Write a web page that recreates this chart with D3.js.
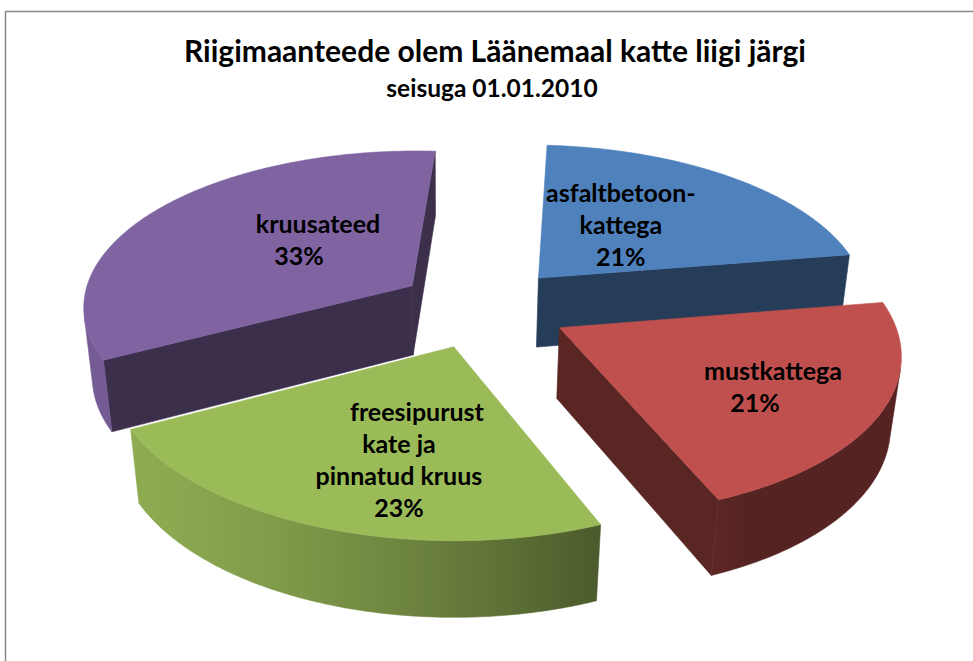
<!DOCTYPE html>
<html>
<head>
<meta charset="utf-8">
<script src="https://cdn.jsdelivr.net/npm/d3@7"></script>
<style>
  body { margin: 0; background: #fff; }
  svg { display: block; }
</style>
</head>
<body>
<div id="chart"></div>
<script>
const width = 973;
const height = 661;

// Data
const categories = ["asfaltbetoon-\nkattega", "mustkattega", "freesipurust\nkate ja\npinnatud kruus", "kruusateed"];
const shares = [21, 21, 23, 33];
const colors = ["#4F81BD", "#C0504D", "#9BBB59", "#8064A2"];
const title = "Riigimaanteede olem Läänemaal katte liigi järgi";
const subtitle = "seisuga 01.01.2010";

// 3D camera (fitted to the picture)
const cam = {phi: 33.03, dist: 6.774, fx: 2134.6, fy: 1919.5, cx: 449.4, cy: 344.6, ox: 0.102, oy: -0.207};
const explode = 0.258;   // in pie radii
const depth = 0.2835;    // slice thickness
const startDeg = 3.72;

// label placement on top face: radius, angle offset from mid angle, per line dx
const labelPos = [
  {r: 0.458, da: -4.7, dx: [0, 0, 0]},
  {r: 0.668, da: 2.5, dx: [8, -10]},
  {r: 0.637, da: -8.3, dx: [12, -6, -6, -6]},
  {r: 0.450, da: 9.5, dx: [8, -11]}
];
const font = "Lato, 'Open Sans', sans-serif";

const RAD = Math.PI / 180;
const cphi = Math.cos(cam.phi * RAD), sphi = Math.sin(cam.phi * RAD);

function project(x, y, z) {
  x += cam.ox; y += cam.oy;
  const d = cam.dist + y * cphi - z * sphi;
  return [cam.cx + cam.fx * x / d, cam.cy - cam.fy * (y * sphi + z * cphi) / d];
}
const eye = [-cam.ox, -cam.dist * cphi - cam.oy, cam.dist * sphi];

const pie = d3.pie().sort(null)
  .startAngle(startDeg * RAD)
  .endAngle(startDeg * RAD + 2 * Math.PI);

const slices = pie(shares).map((a, i) => {
  const m = (a.startAngle + a.endAngle) / 2;
  return {i, a0: a.startAngle, a1: a.endAngle, m, ox: explode * Math.sin(m), oy: explode * Math.cos(m)};
});

const svg = d3.select("#chart").append("svg")
  .attr("width", width)
  .attr("height", height);
const defs = svg.append("defs");

// chart area border
svg.append("rect")
  .attr("x", 5.5).attr("y", 11.5)
  .attr("width", 1000).attr("height", 700)
  .attr("fill", "none")
  .attr("stroke", "#898989")
  .attr("stroke-width", 1.5);

function shade(base, f) {
  const c = d3.rgb(base);
  return d3.rgb(c.r * f, c.g * f, c.b * f).formatHex();
}
const light = [-0.88, -0.45];
const line = d3.line();

// farthest slices first
const order = slices.slice().sort((a, b) => (b.oy + 0.5 * Math.cos(b.m)) - (a.oy + 0.5 * Math.cos(a.m)));

const pieG = svg.append("g");
order.forEach(sl => {
  const base = colors[sl.i];
  const rim = (t, z) => [sl.ox + Math.sin(t), sl.oy + Math.cos(t), z];
  const apex = z => [sl.ox, sl.oy, z];
  const faces = (p, n) => (eye[0] - p[0]) * n[0] + (eye[1] - p[1]) * n[1] + (eye[2] - p[2]) * n[2] > 0;
  const P = p => project(p[0], p[1], p[2]);
  const g = pieG.append("g");

  // radial cut walls
  [[sl.a0, [-Math.cos(sl.a0), Math.sin(sl.a0), 0]], [sl.a1, [Math.cos(sl.a1), -Math.sin(sl.a1), 0]]].forEach(([t, n]) => {
    if (!faces(apex(0), n)) return;
    const col = shade(base, 0.47);
    g.append("path")
      .attr("d", line([apex(depth), rim(t, depth), rim(t, 0), apex(0)].map(P)) + "Z")
      .attr("fill", col).attr("stroke", col).attr("stroke-width", 0.6);
  });

  // outer curved wall: visible part as one shape with a gradient
  const N = Math.ceil((sl.a1 - sl.a0) / RAD) * 2;
  const ts = d3.range(N + 1).map(k => sl.a0 + (sl.a1 - sl.a0) * k / N);
  const vis = d3.range(N).filter(k => {
    const tm = (ts[k] + ts[k + 1]) / 2;
    return faces(rim(tm, depth / 2), [Math.sin(tm), Math.cos(tm), 0]);
  });
  if (vis.length) {
    const k0 = d3.min(vis), k1 = d3.max(vis) + 1;
    const tv = ts.slice(k0, k1 + 1);
    const outline = tv.map(t => P(rim(t, depth))).concat(tv.slice().reverse().map(t => P(rim(t, 0))));
    const stops = vis.map(k => {
      const tm = (ts[k] + ts[k + 1]) / 2;
      const f = 0.44 + 0.48 * Math.max(0, Math.sin(tm) * light[0] + Math.cos(tm) * light[1]);
      return {x: P(rim(tm, depth))[0], col: shade(base, f)};
    }).sort((a, b) => a.x - b.x);
    const x0 = d3.min(outline, d => d[0]), x1 = d3.max(outline, d => d[0]);
    const grad = defs.append("linearGradient")
      .attr("id", "wall" + sl.i)
      .attr("gradientUnits", "userSpaceOnUse")
      .attr("x1", x0).attr("x2", x1).attr("y1", 0).attr("y2", 0);
    grad.selectAll("stop").data(stops).join("stop")
      .attr("offset", d => Math.max(0, Math.min(1, (d.x - x0) / (x1 - x0))))
      .attr("stop-color", d => d.col);
    g.append("path")
      .attr("d", line(outline) + "Z")
      .attr("fill", `url(#wall${sl.i})`)
      .attr("stroke", `url(#wall${sl.i})`)
      .attr("stroke-width", 0.6);
  }

  // top face
  const top = [apex(depth)].concat(ts.map(t => rim(t, depth)));
  g.append("path")
    .attr("d", line(top.map(P)) + "Z")
    .attr("fill", base).attr("stroke", base).attr("stroke-width", 0.6);
});

// data labels
const labelG = svg.append("g")
  .attr("font-family", font)
  .attr("font-weight", "bold")
  .attr("font-size", 25)
  .attr("fill", "#000")
  .attr("text-anchor", "middle");

slices.forEach(sl => {
  const lp = labelPos[sl.i];
  const t = sl.m + lp.da * RAD;
  const [x, y] = project(sl.ox + lp.r * Math.sin(t), sl.oy + lp.r * Math.cos(t), depth);
  const lines = categories[sl.i].split("\n").concat([shares[sl.i] + "%"]);
  lines.forEach((txt, k) => {
    labelG.append("text")
      .attr("x", x + lp.dx[k])
      .attr("y", y + (k - (lines.length - 1) / 2) * 32 + 8)
      .text(txt);
  });
});

// titles
svg.append("text")
  .attr("x", 495).attr("y", 62)
  .attr("text-anchor", "middle")
  .attr("font-family", font)
  .attr("font-weight", "bold")
  .attr("font-size", 30)
  .text(title);

svg.append("text")
  .attr("x", 492).attr("y", 97)
  .attr("text-anchor", "middle")
  .attr("font-family", font)
  .attr("font-weight", "bold")
  .attr("font-size", 24.5)
  .text(subtitle);
</script>
</body>
</html>
